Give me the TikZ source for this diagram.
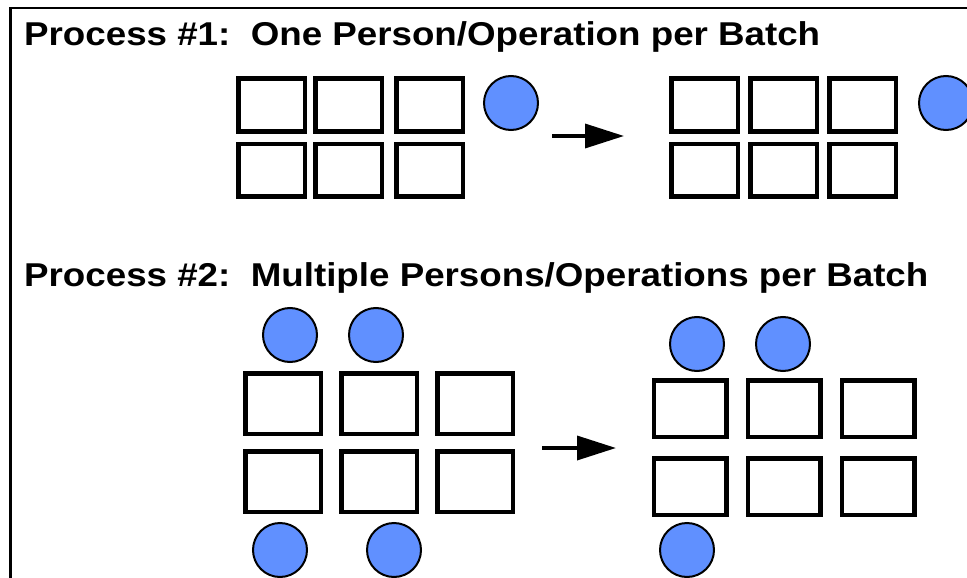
\documentclass[tikz,border=0pt]{standalone}
\usepackage{fontspec}
\setmainfont{Liberation Sans}
\usetikzlibrary{positioning, arrows.meta}
\definecolor{personblue}{RGB}{96,144,255}

\begin{document}
\begin{tikzpicture}[x=1pt, y=-1pt, >={Triangle[length=39pt, width=24pt]},
    cell/.style={rectangle, draw, line width=4.5pt, inner sep=0pt},
    cellsmall/.style={cell, minimum width=66.5pt, minimum height=52.5pt},
    cellwide/.style={cell, minimum width=75.5pt, minimum height=60.5pt},
    cellmid/.style={cell, minimum width=72.5pt, minimum height=56.5pt},
    person/.style={circle, draw, line width=2pt, fill=personblue, minimum size=54pt, inner sep=0pt},
    title/.style={anchor=base west, inner sep=0pt, font=\fontsize{33}{40}\selectfont\bfseries},
    flow/.style={->, line width=3.5pt}]
    \clip (0,0) rectangle (967,578);
    \useasboundingbox (0,0) rectangle (967,578);
    \draw[line width=2.7pt] (10.7,590) -- (10.7,8) -- (980,8);

    % process 1
    \node (t1) [title] at (24,46) {\scalebox{1.113}[1]{Process \#1:\ \ One Person/Operation per Batch}};

    \node (p1a) [cellsmall] at (271.5,105) {};
    \node (p1b) [cellsmall, right=6pt of p1a] {};
    \node (p1c) [cellsmall, right=10pt of p1b] {};
    \node (p1d) [cellsmall, below=8pt of p1a] {};
    \node (p1e) [cellsmall, below=8pt of p1b] {};
    \node (p1f) [cellsmall, below=8pt of p1c] {};
    \node (w1) [person] at (511,103) {};

    \node (q1a) [cellsmall] at (704.5,105) {};
    \node (q1b) [cellsmall, right=8pt of q1a] {};
    \node (q1c) [cellsmall, right=8pt of q1b] {};
    \node (q1d) [cellsmall, below=8pt of q1a] {};
    \node (q1e) [cellsmall, below=8pt of q1b] {};
    \node (q1f) [cellsmall, below=8pt of q1c] {};
    \node (w2) [person] at (946,103) {};

    \coordinate (a1s) at (552,136);
    \coordinate (a1e) at (624,136);
    \draw[flow] (a1s) -- (a1e);

    % process 2
    \node (t2) [title] at (24,286) {\scalebox{1.113}[1]{Process \#2:\ \ Multiple Persons/Operations per Batch}};

    \node (p2a) [cellwide] at (283,403.5) {};
    \node (p2b) [cellwide, right=16pt of p2a] {};
    \node (p2c) [cellwide, right=16pt of p2b] {};
    \node (p2d) [cellwide, below=13pt of p2a] {};
    \node (p2e) [cellwide, below=13pt of p2b] {};
    \node (p2f) [cellwide, below=13pt of p2c] {};
    \node (w3) [person] at (290,335) {};
    \node (w4) [person] at (376,335) {};
    \node (w5) [person] at (280,550) {};
    \node (w6) [person] at (394,550) {};

    \node (q2a) [cellmid] at (690,408.5) {};
    \node (q2b) [cellmid, right=17pt of q2a] {};
    \node (q2c) [cellmid, right=17pt of q2b] {};
    \node (q2d) [cellmid, below=17pt of q2a] {};
    \node (q2e) [cellmid, below=17pt of q2b] {};
    \node (q2f) [cellmid, below=17pt of q2c] {};
    \node (w7) [person] at (697,344) {};
    \node (w8) [person] at (783,344) {};
    \node (w9) [person] at (687,550) {};

    \coordinate (a2s) at (542,448);
    \coordinate (a2e) at (616,448);
    \draw[flow] (a2s) -- (a2e);
\end{tikzpicture}
\end{document}
